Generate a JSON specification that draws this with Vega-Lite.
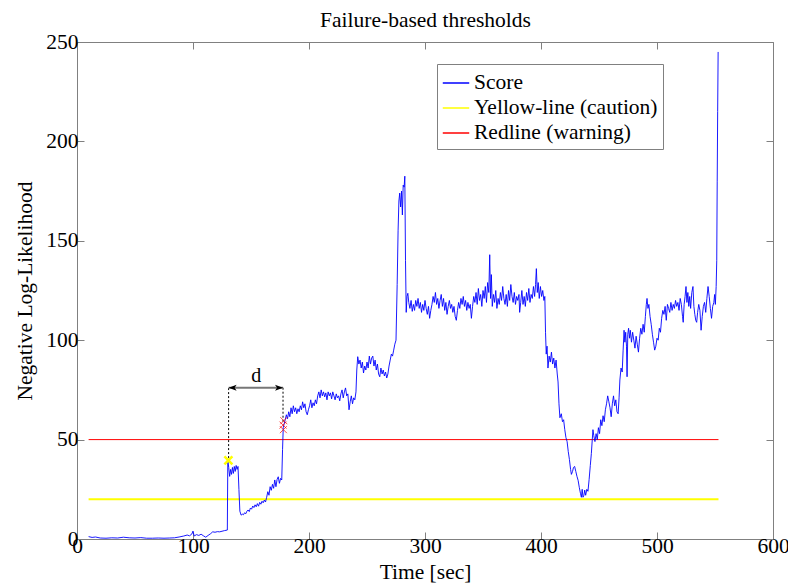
{
 "$schema": "https://vega.github.io/schema/vega-lite/v6.json",
 "width": 696,
 "height": 497,
 "autosize": "none",
 "padding": {"left": 77, "top": 42, "right": 15, "bottom": 46},
 "background": "white",
 "config": {
  "font": "Liberation Serif",
  "view": {"stroke": "#808080", "strokeWidth": 1},
  "axis": {"grid": false, "domain": false, "tickColor": "#808080", "tickSize": -7, "labelFont": "Liberation Serif", "labelFontSize": 21.5, "labelColor": "black", "titleFont": "Liberation Serif", "titleFontSize": 21.5, "titleFontWeight": "normal", "titleColor": "black"},
  "legend": {"labelFont": "Liberation Serif", "labelFontSize": 21.5, "labelColor": "black", "symbolType": "stroke", "symbolSize": 700, "symbolStrokeWidth": 1.5, "labelOffset": 4, "rowPadding": 0, "padding": 5, "strokeColor": "#808080", "fillColor": "white", "labelLimit": 400}
 },
 "datasets": {
  "score": [
   {"t":10,"v":1.2},{"t":13,"v":0.8},{"t":16,"v":1.0},{"t":20,"v":0.5},{"t":25,"v":0.4},{"t":30,"v":0.6},{"t":35,"v":0.5},{"t":40,"v":0.9},{"t":45,"v":0.6},{"t":50,"v":0.5},{"t":55,"v":0.7},{"t":60,"v":0.4},{"t":65,"v":0.4},{"t":70,"v":0.5},{"t":75,"v":0.4},{"t":80,"v":0.5},{"t":84,"v":0.6},{"t":88,"v":1.0},{"t":92,"v":1.5},{"t":95,"v":2.0},{"t":97,"v":1.6},{"t":99,"v":2.5},{"t":100,"v":4.0},{"t":101,"v":1.5},{"t":103,"v":2.2},{"t":105,"v":1.8},{"t":107,"v":2.4},{"t":109,"v":1.6},{"t":111,"v":0.9},{"t":113,"v":1.8},{"t":115,"v":2.6},{"t":117,"v":3.6},{"t":119,"v":3.4},{"t":121,"v":3.7},{"t":123,"v":3.6},{"t":125,"v":3.9},{"t":127,"v":4.2},{"t":129.6,"v":4.5},
   {"t":130,"v":39.5},{"t":130.8,"v":36},{"t":131.6,"v":31.5},{"t":132.4,"v":35},{"t":133.2,"v":32.5},{"t":134,"v":36},{"t":134.8,"v":33},{"t":135.6,"v":36.5},{"t":136.4,"v":34},{"t":137.2,"v":37},{"t":138,"v":35},{"t":138.8,"v":36.5},{"t":139.6,"v":25},{"t":140.4,"v":14},
   {"t":141.5,"v":12},{"t":142.5,"v":12.5},{"t":143.5,"v":12.2},{"t":144.5,"v":13.2},{"t":145.5,"v":12.7},{"t":146.5,"v":14},{"t":147.5,"v":14.6},{"t":148.5,"v":13.8},{"t":149.5,"v":15.6},{"t":150.5,"v":15},{"t":151.5,"v":16.6},{"t":152.5,"v":15.8},{"t":153.5,"v":17.2},{"t":154.5,"v":16.2},{"t":155.5,"v":17.8},{"t":156.5,"v":16.5},{"t":157.5,"v":18.4},{"t":158.5,"v":17.5},{"t":159.5,"v":19},{"t":160.5,"v":18.2},{"t":161.5,"v":19.6},{"t":162.5,"v":18.6},{"t":163.5,"v":21},{"t":164.5,"v":23.8},{"t":165.5,"v":22},{"t":166.5,"v":26.3},{"t":167.5,"v":24.5},{"t":168.5,"v":27.5},{"t":169.5,"v":25.5},{"t":170.5,"v":29.7},{"t":171.5,"v":26.3},{"t":172.5,"v":30},{"t":173.5,"v":31.3},{"t":174.5,"v":28},{"t":175.5,"v":30.5},{"t":176.5,"v":29.7},{"t":177.2,"v":45},{"t":177.8,"v":56},
   {"t":178.6,"v":58},{"t":179.5,"v":60},{"t":180.5,"v":62.5},{"t":181.5,"v":60.5},{"t":182.5,"v":64},{"t":183.5,"v":61.5},{"t":184.5,"v":66},{"t":185.5,"v":63},{"t":186.5,"v":67},{"t":187.5,"v":64},{"t":188.5,"v":66},{"t":189.5,"v":63},{"t":190.5,"v":65.5},{"t":191.5,"v":64},{"t":192.5,"v":67},{"t":193.5,"v":65},{"t":194.5,"v":69},{"t":195.5,"v":66},{"t":196.5,"v":68},{"t":197.5,"v":64},{"t":198.5,"v":62.5},{"t":199.5,"v":65},{"t":200.5,"v":67},{"t":201.5,"v":70},{"t":202.5,"v":66},{"t":203.5,"v":68.5},{"t":204.5,"v":67},{"t":205.5,"v":70},{"t":206.5,"v":68},{"t":207.5,"v":72},{"t":208.5,"v":74},{"t":209.5,"v":71},{"t":210.5,"v":75},{"t":211.5,"v":72},{"t":212.5,"v":74},{"t":213.5,"v":71.5},{"t":214.5,"v":73.5},{"t":215.5,"v":70},{"t":216.5,"v":74},{"t":217.5,"v":72},{"t":218.5,"v":73.5},{"t":219.5,"v":70.5},{"t":220.5,"v":74},{"t":221.5,"v":72},{"t":222.5,"v":70},{"t":223.5,"v":73},{"t":224.5,"v":71},{"t":225.5,"v":72},{"t":226.5,"v":69.5},{"t":227.5,"v":73},{"t":228.5,"v":75},{"t":229.5,"v":71},{"t":230.5,"v":74},{"t":231.5,"v":76},{"t":232.5,"v":72},{"t":233.5,"v":73},{"t":234.5,"v":65},{"t":235.5,"v":69},{"t":236.5,"v":72},{"t":237.5,"v":68},{"t":238.5,"v":71},{"t":239.5,"v":70},{"t":240.5,"v":74},
   {"t":241.2,"v":85},{"t":242,"v":91.7},{"t":243,"v":88},{"t":244,"v":90},{"t":245,"v":86},{"t":246,"v":89},{"t":247,"v":83.5},{"t":248,"v":87},{"t":249,"v":85},{"t":250,"v":89},{"t":251,"v":86},{"t":252,"v":92},{"t":253,"v":88},{"t":254,"v":91},{"t":255,"v":92},{"t":256,"v":87},{"t":257,"v":90},{"t":258,"v":85},{"t":259,"v":88},{"t":260,"v":83},{"t":261,"v":81.6},{"t":262,"v":86},{"t":263,"v":83},{"t":264,"v":85},{"t":265,"v":82},{"t":266,"v":84},{"t":267,"v":81},{"t":268,"v":83},{"t":269,"v":87},{"t":270,"v":90},{"t":271,"v":93},{"t":272,"v":92},{"t":273,"v":95},{"t":274,"v":98},{"t":275,"v":100},
   {"t":276,"v":128},{"t":276.8,"v":155},{"t":277.5,"v":170},{"t":278.2,"v":174},{"t":279,"v":167},{"t":279.8,"v":175},{"t":280.5,"v":163},{"t":281.2,"v":178},{"t":282,"v":177},{"t":282.6,"v":182.5},{"t":283.2,"v":140},{"t":283.8,"v":114},{"t":284.5,"v":122},{"t":285.2,"v":123.6},{"t":286,"v":119},{"t":287,"v":116},{"t":288,"v":120},{"t":289,"v":114.5},{"t":290,"v":118},{"t":291,"v":115},{"t":292,"v":120},
   {"t":293,"v":117},{"t":294,"v":121},{"t":295,"v":116},{"t":296,"v":119},{"t":297,"v":114},{"t":298,"v":118},{"t":299,"v":115},{"t":300,"v":120},{"t":301,"v":116},{"t":302,"v":113},{"t":303,"v":117},{"t":304,"v":111},{"t":305,"v":115},{"t":306,"v":118},{"t":307,"v":122},{"t":308,"v":119},{"t":309,"v":124},{"t":310,"v":118},{"t":311,"v":121},{"t":312,"v":116},{"t":313,"v":120},{"t":314,"v":123},{"t":315,"v":117},{"t":316,"v":121},{"t":317,"v":115},{"t":318,"v":119},{"t":319,"v":113},{"t":320,"v":117},{"t":321,"v":120},{"t":322,"v":116},{"t":323,"v":118},{"t":324,"v":114},{"t":325,"v":117},{"t":326,"v":112},{"t":327,"v":110},{"t":328,"v":115},{"t":329,"v":119},{"t":330,"v":116},{"t":331,"v":121},{"t":332,"v":118},{"t":333,"v":122},{"t":334,"v":117},{"t":335,"v":120},{"t":336,"v":115},{"t":337,"v":119},{"t":338,"v":116},{"t":339,"v":118},{"t":340,"v":111},{"t":341,"v":117},{"t":342,"v":122},{"t":343,"v":119},{"t":344,"v":124},{"t":345,"v":118},{"t":346,"v":126},{"t":347,"v":120},{"t":348,"v":123},{"t":349,"v":117},{"t":350,"v":125},{"t":351,"v":121},{"t":352,"v":127},{"t":353,"v":119},{"t":354,"v":129},{"t":355,"v":124},{"t":355.8,"v":143},{"t":356.5,"v":121},{"t":357.2,"v":133},{"t":358,"v":117},{"t":359,"v":123},{"t":360,"v":119},{"t":361,"v":125},{"t":362,"v":116},{"t":363,"v":121},{"t":364,"v":118},{"t":365,"v":124},{"t":366,"v":120},{"t":367,"v":127},{"t":368,"v":121},{"t":369,"v":118},{"t":370,"v":123},{"t":371,"v":117},{"t":372,"v":125},{"t":373,"v":120},{"t":374,"v":128},{"t":375,"v":122},{"t":376,"v":119},{"t":377,"v":124},{"t":378,"v":118},{"t":379,"v":122},{"t":380,"v":120},{"t":381,"v":123},{"t":381.6,"v":114},{"t":382.5,"v":119},{"t":383.5,"v":125},{"t":384.5,"v":118},{"t":385.5,"v":122},{"t":386.5,"v":117},{"t":387.5,"v":124},{"t":388.5,"v":120},{"t":389.5,"v":126},{"t":390.5,"v":119},{"t":391.5,"v":123},{"t":392.5,"v":121},{"t":393.5,"v":127},{"t":394.5,"v":122},{"t":395.3,"v":128},{"t":396,"v":136},{"t":396.8,"v":124},{"t":397.6,"v":129},{"t":398.5,"v":121},{"t":399.5,"v":127},{"t":400.5,"v":122},{"t":401.5,"v":125},{"t":402.5,"v":120},{"t":403.3,"v":122},
   {"t":403.9,"v":104},{"t":404.5,"v":93},{"t":405.2,"v":97},{"t":406,"v":86},{"t":407,"v":92},{"t":408,"v":89},{"t":409,"v":94},{"t":410,"v":88},{"t":411,"v":91},{"t":412,"v":86},{"t":413,"v":90},{"t":414,"v":83},{"t":414.7,"v":79},{"t":415.5,"v":68},{"t":416.3,"v":61},{"t":417.5,"v":63},{"t":418.5,"v":59},{"t":419.5,"v":60},{"t":420.5,"v":55},{"t":421.5,"v":51},{"t":422.5,"v":49},{"t":423.5,"v":44},{"t":424.5,"v":40},{"t":425.5,"v":35},{"t":426.2,"v":32.5},{"t":427.2,"v":34},{"t":428,"v":36},{"t":429,"v":36.5},{"t":430,"v":34},{"t":431,"v":31.5},{"t":432,"v":29.5},{"t":433,"v":26},{"t":434,"v":23},{"t":434.8,"v":21},{"t":435.5,"v":25},{"t":436.2,"v":21},{"t":437,"v":22},{"t":437.7,"v":24.6},{"t":438.5,"v":22},{"t":439.5,"v":25},{"t":440.5,"v":24},{"t":441.5,"v":30},{"t":442.5,"v":37},{"t":443.4,"v":43},{"t":444.2,"v":50},{"t":444.8,"v":55},{"t":445.5,"v":52},{"t":446.5,"v":49},{"t":447.5,"v":53},{"t":448.5,"v":50},{"t":449.5,"v":56},{"t":450.5,"v":53},{"t":451.5,"v":60},{"t":452.5,"v":57},{"t":453.5,"v":62},{"t":454.5,"v":59},{"t":455.5,"v":65},{"t":456.5,"v":68},{"t":457.5,"v":72},{"t":458.5,"v":69},{"t":459.5,"v":66},{"t":460.5,"v":61.5},{"t":461.5,"v":68},{"t":462.5,"v":72},{"t":463.5,"v":67},{"t":464.5,"v":70},{"t":465.5,"v":64},{"t":466.5,"v":63},{"t":467.3,"v":71},{"t":468,"v":80},{"t":469,"v":86},{"t":470,"v":84},{"t":470.8,"v":95},{"t":471.6,"v":105},{"t":472.3,"v":99},{"t":473,"v":104},{"t":473.7,"v":97},{"t":474.2,"v":81.6},{"t":474.8,"v":103},{"t":475.5,"v":106},{"t":476.3,"v":101},{"t":477,"v":105},{"t":478,"v":99},{"t":479,"v":104},{"t":480,"v":100},{"t":481,"v":96},{"t":482,"v":102},{"t":483,"v":98},{"t":484,"v":94},{"t":485,"v":101},{"t":486,"v":106},{"t":487,"v":103},{"t":488,"v":108},{"t":489,"v":104},{"t":490,"v":112},{"t":490.8,"v":118},{"t":491.4,"v":121},{"t":492.2,"v":116},{"t":493,"v":118},{"t":494,"v":112},{"t":495,"v":108},{"t":496,"v":103},{"t":497,"v":99},{"t":498,"v":95},{"t":499,"v":97},{"t":500,"v":101},{"t":501,"v":100},{"t":502,"v":106},{"t":503,"v":104},{"t":504,"v":111},{"t":505,"v":115},{"t":506,"v":113},{"t":507,"v":117},{"t":508,"v":110},{"t":509,"v":118},{"t":510,"v":116},{"t":511,"v":114},{"t":512,"v":119},{"t":513,"v":115},{"t":514,"v":118},{"t":515,"v":116},{"t":516,"v":120},{"t":517,"v":117},{"t":518,"v":119},{"t":519,"v":115},{"t":520,"v":121},{"t":521,"v":118},{"t":522,"v":112},{"t":522.6,"v":109},{"t":523.4,"v":118},{"t":524.2,"v":122},{"t":525,"v":127},{"t":525.8,"v":119},{"t":526.6,"v":124},{"t":527.4,"v":117},{"t":528.2,"v":122},{"t":529,"v":116},{"t":530,"v":124},{"t":531,"v":127},{"t":531.8,"v":117},{"t":532.6,"v":113},{"t":533.4,"v":110},{"t":534.2,"v":109},{"t":535,"v":114},{"t":536,"v":118},{"t":537,"v":115},{"t":538,"v":105},{"t":539,"v":112},{"t":540,"v":117},{"t":541,"v":119},{"t":542,"v":114},{"t":543,"v":121},{"t":544,"v":127},{"t":545,"v":122},{"t":546,"v":116},{"t":547,"v":111},{"t":548,"v":117},{"t":549,"v":119},{"t":549.7,"v":123},{"t":550.3,"v":118},{"t":551,"v":127},{"t":551.5,"v":140},{"t":551.9,"v":180},{"t":552.3,"v":215},{"t":552.7,"v":245}
  ],
  "thresholds": [
   {"name": "Yellow-line (caution)", "v": 20, "t0": 10, "t1": 553},
   {"name": "Redline (warning)", "v": 50, "t0": 10, "t1": 553}
  ],
  "caution": [{"t": 130.5, "v": 39.5}],
  "warning": [{"t": 177.6, "v": 57.3}, {"t": 177.9, "v": 55}, {"t": 178.3, "v": 59.5}],
  "guides": [{"t": 130.7, "v0": 40.7, "v1": 76.1}, {"t": 177.6, "v0": 59, "v1": 76.1}],
  "arrow": [{"t0": 130.7, "t1": 177.6, "v": 76.1}],
  "heads": [{"t": 130.7, "v": 76.1, "dir": "left"}, {"t": 177.6, "v": 76.1, "dir": "right"}],
  "label": [{"t": 154.6, "v": 79, "text": "d"}]
 },
 "layer": [
  {
   "data": {"name": "thresholds"},
   "transform": [{"filter": "datum.v == 20"}],
   "mark": {"type": "rule", "strokeWidth": 2},
   "encoding": {
    "x": {"field": "t0", "type": "quantitative", "scale": {"domain": [0, 600], "nice": false, "zero": false}, "axis": {"orient": "bottom", "values": [0, 100, 200, 300, 400, 500, 600], "title": "Time [sec]", "labelPadding": 3, "titlePadding": 5, "labelFlush": false}},
    "x2": {"field": "t1"},
    "y": {"field": "v", "type": "quantitative", "scale": {"domain": [0, 250], "nice": false, "zero": false}, "axis": {"orient": "left", "values": [0, 50, 100, 150, 200, 250], "title": "Negative Log-Likelihood", "labelPadding": 6, "titlePadding": 9}},
    "color": {"datum": "Yellow-line (caution)", "scale": {"domain": ["Score", "Yellow-line (caution)", "Redline (warning)"], "range": ["#0000ff", "#ffff00", "#ff0000"]},
     "legend": {"orient": "none", "legendX": 360, "legendY": 22, "title": null}}
   }
  },
  {
   "data": {"name": "thresholds"},
   "transform": [{"filter": "datum.v == 50"}],
   "mark": {"type": "rule", "strokeWidth": 1},
   "encoding": {
    "x": {"field": "t0", "type": "quantitative", "axis": null},
    "x2": {"field": "t1"},
    "y": {"field": "v", "type": "quantitative", "axis": null},
    "color": {"datum": "Redline (warning)"}
   }
  },
  {
   "data": {"name": "score"},
   "mark": {"type": "line", "strokeWidth": 0.9},
   "encoding": {
    "x": {"field": "t", "type": "quantitative", "axis": null},
    "y": {"field": "v", "type": "quantitative", "axis": null},
    "color": {"datum": "Score"}
   }
  },
  {
   "data": {"name": "guides"},
   "mark": {"type": "rule", "color": "black", "strokeWidth": 1, "strokeDash": [2, 2]},
   "encoding": {
    "x": {"field": "t", "type": "quantitative", "axis": null},
    "y": {"field": "v0", "type": "quantitative", "axis": null},
    "y2": {"field": "v1"}
   }
  },
  {
   "data": {"name": "arrow"},
   "mark": {"type": "rule", "color": "#777777", "strokeWidth": 2},
   "encoding": {
    "x": {"field": "t0", "type": "quantitative", "axis": null},
    "x2": {"field": "t1"},
    "y": {"field": "v", "type": "quantitative", "axis": null}
   }
  },
  {
   "data": {"name": "heads"},
   "mark": {"type": "point", "filled": true, "color": "black", "opacity": 1, "size": 100},
   "encoding": {
    "x": {"field": "t", "type": "quantitative", "axis": null},
    "y": {"field": "v", "type": "quantitative", "axis": null},
    "shape": {"field": "dir", "type": "nominal", "scale": {"domain": ["left", "right"], "range": ["M0,0L1.6,-0.6L1.2,0L1.6,0.6Z", "M0,0L-1.6,-0.6L-1.2,0L-1.6,0.6Z"]}, "legend": null}
   }
  },
  {
   "data": {"name": "caution"},
   "mark": {"type": "point", "shape": "M-1,-1L1,1M-1,1L1,-1", "filled": false, "color": "#ffff00", "strokeWidth": 2.5, "size": 64, "opacity": 1},
   "encoding": {
    "x": {"field": "t", "type": "quantitative", "axis": null},
    "y": {"field": "v", "type": "quantitative", "axis": null}
   }
  },
  {
   "data": {"name": "warning"},
   "mark": {"type": "point", "shape": "M-1,-1L1,1M-1,1L1,-1", "filled": false, "color": "#ff0000", "strokeWidth": 1, "size": 49, "opacity": 0.7},
   "encoding": {
    "x": {"field": "t", "type": "quantitative", "axis": null},
    "y": {"field": "v", "type": "quantitative", "axis": null}
   }
  },
  {
   "data": {"name": "label"},
   "mark": {"type": "text", "font": "Liberation Serif", "fontSize": 20, "color": "black", "align": "center", "baseline": "alphabetic"},
   "encoding": {
    "x": {"field": "t", "type": "quantitative", "axis": null},
    "y": {"field": "v", "type": "quantitative", "axis": null},
    "text": {"field": "text"}
   }
  },
  {
   "data": {"name": "thresholds"},
   "mark": {"type": "point", "opacity": 0},
   "encoding": {
    "x": {"field": "t0", "type": "quantitative", "axis": {"orient": "top", "values": [0, 100, 200, 300, 400, 500, 600], "labels": false, "title": "Failure-based thresholds", "titleFontSize": 21.5, "titleBaseline": "alphabetic", "titlePadding": 15}},
    "y": {"field": "v", "type": "quantitative", "axis": {"orient": "right", "values": [0, 50, 100, 150, 200, 250], "labels": false, "title": null}}
   }
  }
 ],
 "resolve": {"axis": {"x": "independent", "y": "independent"}}
}
